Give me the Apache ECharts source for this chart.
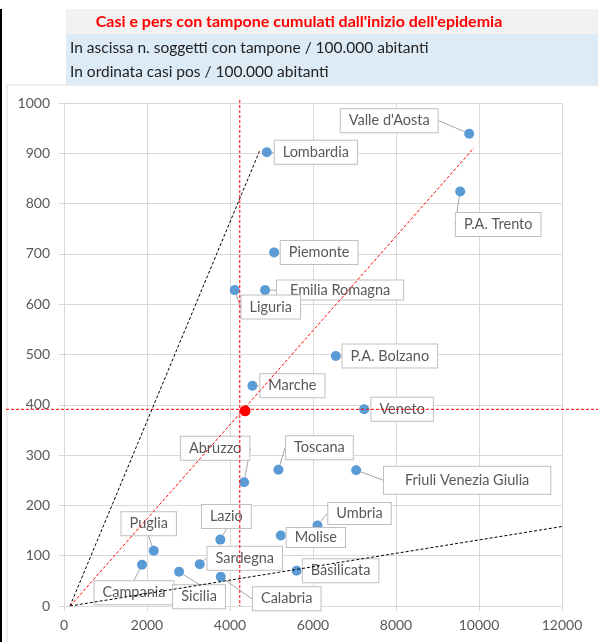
<!DOCTYPE html>
<html><head><meta charset="utf-8">
<script src="https://cdn.jsdelivr.net/npm/echarts@6/dist/echarts.min.js"></script>
<style>html,body{margin:0;padding:0;background:#fff}#c{width:598px;height:642px}</style>
</head><body><div id="c"></div>
<script>
// ---- data ----
const regions = ['Lombardia','Valle d\'Aosta','P.A. Trento','Piemonte','Emilia Romagna','Liguria','P.A. Bolzano','Marche','Veneto','Abruzzo','Toscana','Friuli Venezia Giulia','Umbria','Molise','Lazio','Puglia','Sardegna','Campania','Sicilia','Calabria','Basilicata'];
const tested = [4887, 9764, 9547, 5063, 4846, 4115, 6550, 4540, 7232, 4340, 5167, 7040, 6108, 5224, 3768, 2162, 3271, 1880, 2772, 3777, 5605];
const cases  = [902, 939, 824, 703, 628, 628, 497, 438, 391, 246, 271, 270, 160, 140, 132, 110, 83, 82, 68, 58, 70];
const italy = [4364, 388];
const refX = 4236;
const refY = 391;
const redTrend = [[150, 0], [9880, 911]];
const blackSteep = [[145, 0], [4710, 904]];
const blackShallow = [[145, 0], [12000, 158]];
const xAxisRange = {min: 0, max: 12000, interval: 2000};
const yAxisRange = {min: 0, max: 1000, interval: 100};
const titleText = "Casi e pers con tampone cumulati dall'inizio dell'epidemia";
const subLine1 = 'In ascissa n. soggetti con tampone / 100.000 abitanti';
const subLine2 = 'In ordinata casi pos / 100.000 abitanti';

// ---- label layout (pixel offsets of label centre from point) ----
const labelOffsets = {
  'Lombardia':[49,0], 'Valle d\'Aosta':[-80,-13], 'P.A. Trento':[38,33], 'Piemonte':[45,0],
  'Emilia Romagna':[75,0], 'Liguria':[36,17], 'P.A. Bolzano':[54,0], 'Marche':[40,0],
  'Veneto':[38,0], 'Abruzzo':[-29,-34], 'Toscana':[41,-22], 'Friuli Venezia Giulia':[111,10],
  'Umbria':[42,-12], 'Molise':[35,2], 'Lazio':[6,-23], 'Puglia':[-5,-27], 'Sardegna':[45,-6],
  'Campania':[-8,28], 'Sicilia':[20,25], 'Calabria':[66,22], 'Basilicata':[44,0]
};
const labelPadding = {'Friuli Venezia Giulia':[6,21], 'Emilia Romagna':[2,13], 'Molise':[2,8], 'Umbria':[3,8]};

const FONT = 'Lato';
const chart = echarts.init(document.getElementById('c'));

const pts = regions.map((n,i)=>({
  name: n, value: [tested[i], cases[i]],
  label: labelPadding[n] ? {padding: labelPadding[n]} : undefined
}));

const dashedLine = (data, color) => ({
  type:'line', data, symbol:'none', z:4, silent:true,
  lineStyle:{color, width:1, type:[3,2]}, animation:false
});
const plain = v => String(v);

chart.setOption({
  animation:false,
  grid:{left:64, right:36, top:103, bottom:36},
  xAxis:{type:'value', min:xAxisRange.min, max:xAxisRange.max, interval:xAxisRange.interval,
    axisLine:{show:true, lineStyle:{color:'#d9d9d9'}},
    axisTick:{show:true, length:5, lineStyle:{color:'#d9d9d9'}},
    axisLabel:{color:'#595959', fontSize:14, fontFamily:FONT, margin:12, formatter:plain},
    splitLine:{show:true, lineStyle:{color:'#d9d9d9'}}},
  yAxis:{type:'value', min:yAxisRange.min, max:yAxisRange.max, interval:yAxisRange.interval,
    axisLine:{show:true, lineStyle:{color:'#d9d9d9'}},
    axisTick:{show:true, length:5, lineStyle:{color:'#d9d9d9'}},
    axisLabel:{color:'#595959', fontSize:14, fontFamily:FONT, margin:14, formatter:plain},
    splitLine:{show:true, lineStyle:{color:'#d9d9d9'}}},
  series:[
    {type:'scatter', z:2, data:pts, symbolSize:10, itemStyle:{color:'#5b9bd5', opacity:1},
     label:{show:true, position:'inside', formatter:'{b}', color:'#595959', fontSize:14.5, fontFamily:FONT,
       backgroundColor:'#fff', borderColor:'#bfbfbf', borderWidth:1, padding:[4,8]},
     labelLine:{show:true, lineStyle:{color:'#a6a6a6', width:1}},
     labelLayout:function(p){ const o = labelOffsets[regions[p.dataIndex]]; return {dx:o[0], dy:o[1]}; }
    },
    dashedLine(redTrend, '#ff0000'),
    dashedLine(blackSteep, '#000000'),
    dashedLine(blackShallow, '#000000'),
    {type:'scatter', z:6, data:[italy], symbolSize:11, itemStyle:{color:'#ff0000', opacity:1}}
  ]
});

const pRef = chart.convertToPixel({gridIndex:0}, [refX, refY]);
const pTop = chart.convertToPixel({gridIndex:0}, [refX, yAxisRange.max]);
const pBot = chart.convertToPixel({gridIndex:0}, [refX, yAxisRange.min]);
chart.setOption({
  graphic:[
    {type:'rect', shape:{x:0, y:9, width:2, height:633}, style:{fill:'#000'}, z:1},
    {type:'rect', shape:{x:7, y:85, width:600, height:600}, style:{fill:'none', stroke:'#d9d9d9', lineWidth:1}, z:0},
    {type:'rect', shape:{x:66, y:9, width:532, height:25}, style:{fill:'#f2f2f2'}, z:0},
    {type:'rect', shape:{x:66, y:34, width:532, height:51}, style:{fill:'#ddebf7'}, z:0},
    {type:'text', x:299, y:22, style:{text:titleText, fill:'#ff0000', font:'bold 16px '+FONT, textAlign:'center', textVerticalAlign:'middle'}},
    {type:'text', x:70, y:48, style:{text:subLine1, fill:'#222', font:'15.5px '+FONT, textAlign:'left', textVerticalAlign:'middle'}},
    {type:'text', x:70, y:72, style:{text:subLine2, fill:'#222', font:'15.5px '+FONT, textAlign:'left', textVerticalAlign:'middle'}},
    {type:'line', z:10, shape:{x1:6, y1:pRef[1], x2:598, y2:pRef[1]}, style:{stroke:'#ff0000', lineWidth:1, lineDash:[3,2]}},
    {type:'line', z:10, shape:{x1:pRef[0], y1:pTop[1]-3, x2:pRef[0], y2:pBot[1]}, style:{stroke:'#ff0000', lineWidth:1, lineDash:[3,2]}}
  ]
});
</script></body></html>
